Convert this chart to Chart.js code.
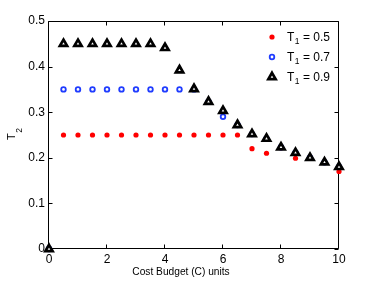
<!DOCTYPE html>
<html><head><meta charset="utf-8">
<script src="https://cdn.jsdelivr.net/npm/chart.js@4/dist/chart.umd.min.js"></script>
<style>html,body{margin:0;padding:0;background:#fff}canvas{display:block}</style>
</head><body>
<canvas id="c" width="374" height="281"></canvas>
<script>
// ---- data ----
const budget   = [0, 0.5, 1, 1.5, 2, 2.5, 3, 3.5, 4, 4.5, 5, 5.5, 6, 6.5, 7, 7.5, 8, 8.5, 9, 9.5, 10];
const seriesT05 = [0, 0.25, 0.25, 0.25, 0.25, 0.25, 0.25, 0.25, 0.25, 0.25, 0.25, 0.25, 0.25, 0.25, 0.22, 0.21, 0.222, 0.199, 0.20, 0.19, 0.17];
const seriesT07 = [0, 0.35, 0.35, 0.35, 0.35, 0.35, 0.35, 0.35, 0.35, 0.35, 0.35, 0.323, 0.29, 0.272, 0.252, 0.242, 0.223, 0.211, 0.20, 0.19, 0.18];
const seriesT09 = [0, 0.45, 0.45, 0.45, 0.45, 0.45, 0.45, 0.45, 0.441, 0.392, 0.351, 0.323, 0.303, 0.272, 0.252, 0.242, 0.223, 0.211, 0.20, 0.19, 0.18];
const seriesNames = ['0.5', '0.7', '0.9'];
const xTickValues = [0, 2, 4, 6, 8, 10];
const xTickLabels = ['0', '2', '4', '6', '8', '10'];
const yTickValues = [0, 0.1, 0.2, 0.3, 0.4, 0.5];
const yTickLabels = ['0', '0.1', '0.2', '0.3', '0.4', '0.5'];
const xTitle = 'Cost Budget (C) units';
const yTitleMain = 'T', yTitleSub = '2';
const legendMain = 'T', legendSub = '1';

const FONT = '"Liberation Sans", Arial, Helvetica, sans-serif';
const toPts = arr => arr.map((v, i) => ({x: budget[i], y: v}));

const styles = [
  {pointStyle: 'circle', radius: 2.6, backgroundColor: '#ff0000', borderColor: '#ff0000', borderWidth: 0},
  {pointStyle: 'circle', radius: 2.3, backgroundColor: 'rgba(0,0,0,0)', borderColor: '#1f3cff', borderWidth: 1.8},
  {pointStyle: 'triangle', radius: 4.2, backgroundColor: '#ffffff', borderColor: '#000000', borderWidth: 2.7}
];
const seriesData = [seriesT05, seriesT07, seriesT09];

const datasets = seriesData.map((s, i) => ({
  label: legendMain + legendSub + ' = ' + seriesNames[i],
  data: toPts(s),
  showLine: false,
  pointStyle: styles[i].pointStyle,
  pointRadius: styles[i].radius,
  pointHoverRadius: styles[i].radius,
  pointBackgroundColor: styles[i].backgroundColor,
  pointBorderColor: styles[i].borderColor,
  pointBorderWidth: styles[i].borderWidth,
  order: 3 - i,
  clip: false
}));

function drawMarker(ctx, st, x, y) {
  ctx.save();
  ctx.fillStyle = st.backgroundColor;
  ctx.strokeStyle = st.borderColor;
  ctx.lineWidth = st.borderWidth;
  ctx.beginPath();
  if (st.pointStyle === 'circle') {
    ctx.arc(x, y, st.radius, 0, Math.PI * 2);
  } else {
    let r = st.radius, a = 0;
    ctx.moveTo(x + Math.sin(a) * r, y - Math.cos(a) * r);
    a += 2 * Math.PI / 3;
    ctx.lineTo(x + Math.sin(a) * r, y - Math.cos(a) * r);
    a += 2 * Math.PI / 3;
    ctx.lineTo(x + Math.sin(a) * r, y - Math.cos(a) * r);
    ctx.closePath();
  }
  ctx.fill();
  if (st.borderWidth > 0) ctx.stroke();
  ctx.restore();
}

const matlabPlugin = {
  id: 'matlabBox',
  beforeDatasetsDraw(chart) {
    const {ctx, chartArea: a, scales: {x, y}} = chart;
    ctx.save();
    ctx.strokeStyle = '#000';
    ctx.lineWidth = 1;
    const L = Math.round(a.left) - 0.5, R = Math.round(a.right) - 0.5;
    const T = Math.round(a.top) + 0.5, B = Math.round(a.bottom) - 0.5;
    ctx.beginPath();
    ctx.rect(L, T, R - L, B - T);
    const tl = 4;
    xTickValues.forEach(v => {
      const px = Math.round(x.getPixelForValue(v)) - 0.5;
      ctx.moveTo(px, B); ctx.lineTo(px, B - tl);
      ctx.moveTo(px, T); ctx.lineTo(px, T + tl);
    });
    yTickValues.forEach(v => {
      const py = Math.round(y.getPixelForValue(v)) + 0.5;
      ctx.moveTo(L, py); ctx.lineTo(L + tl, py);
      ctx.moveTo(R, py); ctx.lineTo(R - tl, py);
    });
    ctx.stroke();
    ctx.restore();
  },
  afterDraw(chart) {
    const {ctx} = chart;
    ctx.save();
    ctx.fillStyle = '#000';
    // x title
    ctx.font = '10.2px ' + FONT;
    ctx.textAlign = 'center';
    ctx.textBaseline = 'alphabetic';
    ctx.fillText(xTitle, 181, 274.5);
    // y title (rotated, with subscript)
    ctx.save();
    ctx.translate(14.5, 140);
    ctx.rotate(-Math.PI / 2);
    ctx.textAlign = 'left';
    ctx.font = '11px ' + FONT;
    ctx.fillText(yTitleMain, 0, 0);
    const tw = ctx.measureText(yTitleMain).width;
    ctx.font = '8.5px ' + FONT;
    ctx.fillText(yTitleSub, tw + 0.5, 7);
    ctx.restore();
    // legend
    const rows = [37, 57, 77];
    rows.forEach((ry, i) => {
      drawMarker(ctx, styles[i], 272, ry);
      ctx.textAlign = 'left';
      ctx.font = '12px ' + FONT;
      ctx.fillText(legendMain, 287, ry + 3.5);
      let w = ctx.measureText(legendMain).width;
      ctx.font = '8.5px ' + FONT;
      ctx.fillText(legendSub, 287 + w + 0.3, ry + 6.5);
      let w2 = ctx.measureText(legendSub).width;
      ctx.font = '12px ' + FONT;
      ctx.fillText(' = ' + seriesNames[i], 287 + w + w2 + 0.5, ry + 3.5);
    });
    ctx.restore();
  }
};

new Chart(document.getElementById('c'), {
  type: 'scatter',
  data: {datasets},
  plugins: [matlabPlugin],
  options: {
    responsive: false,
    devicePixelRatio: 1,
    animation: false,
    events: [],
    layout: {padding: {left: 0, top: 21, right: 35, bottom: 0}},
    plugins: {legend: {display: false}, tooltip: {enabled: false}},
    scales: {
      x: {
        type: 'linear', min: 0, max: 10,
        afterBuildTicks: s => { s.ticks = xTickValues.map(v => ({value: v})); },
        afterFit: s => { s.height = 32; },
        grid: {display: true, drawOnChartArea: false, drawTicks: false},
        border: {display: false},
        ticks: {color: '#000', font: {family: FONT, size: 12}, padding: 3,
                maxRotation: 0, autoSkip: false,
                callback: (v, i) => xTickLabels[i]}
      },
      y: {
        type: 'linear', min: 0, max: 0.5,
        afterBuildTicks: s => { s.ticks = yTickValues.map(v => ({value: v})); },
        afterFit: s => { s.width = 49; },
        grid: {display: true, drawOnChartArea: false, drawTicks: false},
        border: {display: false},
        ticks: {color: '#000', font: {family: FONT, size: 12}, padding: 4,
                autoSkip: false,
                callback: (v, i) => yTickLabels[i]}
      }
    }
  }
});
</script>
</body></html>
